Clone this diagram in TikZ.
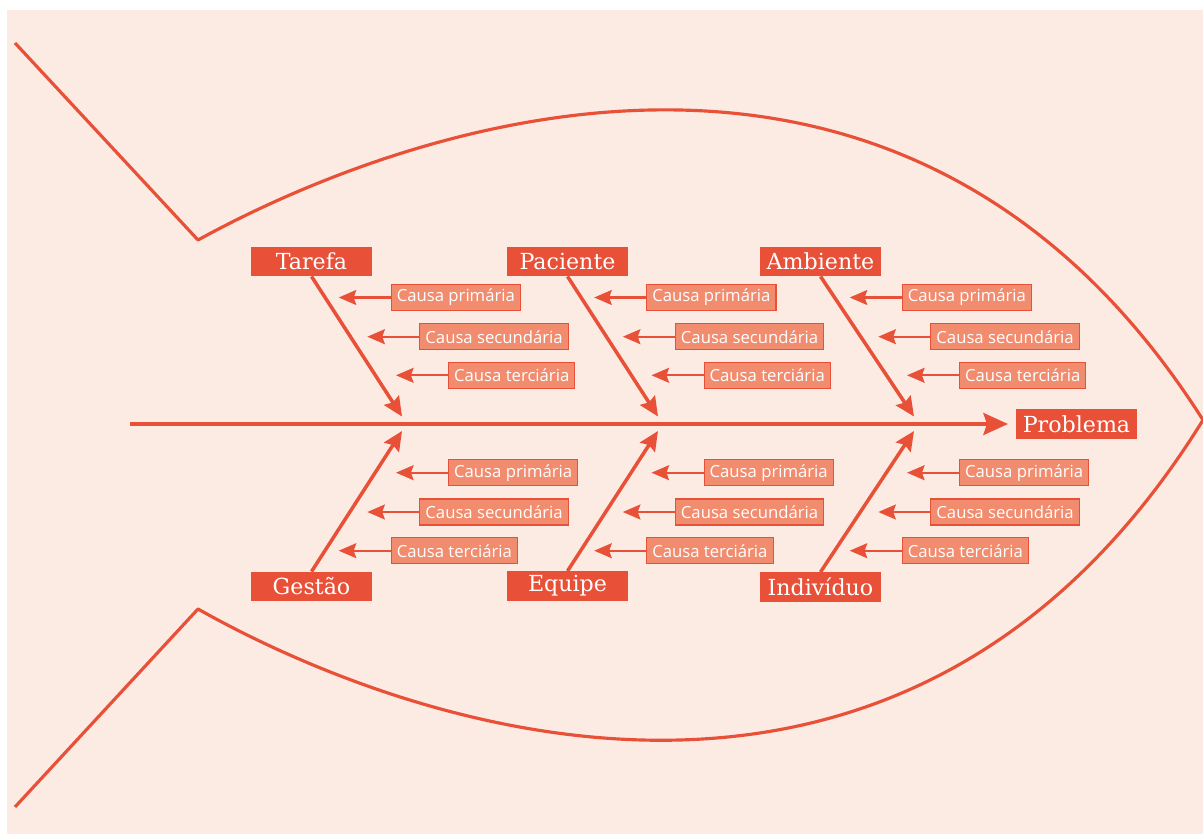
\documentclass[tikz,border=0pt]{standalone}
\usepackage{fontspec}
\usepackage{tikz}
\usetikzlibrary{arrows.meta}

\newfontfamily\slabfont{DejaVu Serif}
\newfontfamily\causefont{Open Sans}

\definecolor{fishred}{RGB}{232,80,56}
\definecolor{fishsalmon}{RGB}{242,140,111}
\definecolor{fishbg}{RGB}{252,235,227}

\tikzset{
  category/.style={fill=fishred, text=white, minimum width=68.6pt, minimum height=16.6pt,
    inner sep=0pt, font=\slabfont\fontsize{12.6}{14}\selectfont},
  cause/.style={fill=fishsalmon, draw=fishred, line width=0.6pt, text=white, anchor=west,
    minimum height=14.8pt, inner xsep=3.2pt, inner ysep=0pt, font=\causefont\fontsize{9.5}{11}\selectfont},
  bone/.style={draw=fishred, line width=2pt, -{Stealth[length=11pt, width=10pt, inset=1.5pt]}},
  spinearrow/.style={draw=fishred, line width=2pt, -{Stealth[length=14pt, width=12.5pt, inset=2pt]}},
  causearrow/.style={draw=fishred, line width=1.2pt, -{Stealth[length=10pt, width=8.5pt, inset=1.5pt]}}
}

\begin{document}
\begin{tikzpicture}[x=0.02cm, y=-0.02cm]

        \useasboundingbox (0,0) rectangle (1203,834);
        \fill[fishbg] (7,10) rectangle (1203,834);

        % fish outline
        \draw[fishred, line width=1.8pt, line join=round]
          (15,43) -- (198,240) .. controls (398,130) and (900,-57) .. (1203,420)
          .. controls (900,909) and (398,722) .. (198,609) -- (15,807);

        \begin{scope}[every node/.style={category}]
          \node (tarefa)    at (311.5,261.5) {Tarefa};
          \node (paciente)  at (567.5,261.5) {Paciente};
          \node (ambiente)  at (820.5,261.5) {Ambiente};
          \node (gestao)    at (311.5,586.5) {Gestão};
          \node (equipe)    at (567.5,586)   {Equipe};
          \node (individuo) at (820.5,587)   {Indivíduo};
          \node (problema)  at (1076.5,424)  {Problema};
        \end{scope}

        \coordinate (spine) at (130,424);
        \coordinate (tarefab)    at (402,416.5);
        \coordinate (pacienteb)  at (658,416.5);
        \coordinate (ambienteb)  at (914,416.5);
        \coordinate (gestaob)    at (402,431);
        \coordinate (equipeb)    at (658,431);
        \coordinate (individuob) at (914,431);

        \begin{scope}[every node/.style={cause}]
          \node (tarefa1)    at (390.7,297.5) {Causa primária};
          \node (tarefa2)    at (419.3,336.7) {Causa secundária};
          \node (tarefa3)    at (448,375.3)   {Causa terciária};
          \node (paciente1)  at (646.2,297.5) {Causa primária};
          \node (paciente2)  at (674.8,336.7) {Causa secundária};
          \node (paciente3)  at (703.5,375.3) {Causa terciária};
          \node (ambiente1)  at (901.7,297.5) {Causa primária};
          \node (ambiente2)  at (930.3,336.7) {Causa secundária};
          \node (ambiente3)  at (959,375.3)   {Causa terciária};
          \node (gestao1)    at (448,472.7)   {Causa primária};
          \node (gestao2)    at (419.3,512)   {Causa secundária};
          \node (gestao3)    at (390.7,550.7) {Causa terciária};
          \node (equipe1)    at (703.5,472.7) {Causa primária};
          \node (equipe2)    at (674.8,512)   {Causa secundária};
          \node (equipe3)    at (646.2,550.7) {Causa terciária};
          \node (individuo1) at (959,472.7)   {Causa primária};
          \node (individuo2) at (930.3,512)   {Causa secundária};
          \node (individuo3) at (901.7,550.7) {Causa terciária};
        \end{scope}

        % spine and bones
        \path (spine) edge[spinearrow, shorten >=4.5pt] (problema);
        \path (tarefa.south)    edge[bone] (tarefab);
        \path (paciente.south)  edge[bone] (pacienteb);
        \path (ambiente.south)  edge[bone] (ambienteb);
        \path (gestao.north)    edge[bone] (gestaob);
        \path (equipe.north)    edge[bone] (equipeb);
        \path (individuo.north) edge[bone] (individuob);

        \begin{scope}[every path/.style={causearrow}]
          \draw (tarefa1.west)    -- +(-52,0);
          \draw (tarefa2.west)    -- +(-52,0);
          \draw (tarefa3.west)    -- +(-52,0);
          \draw (paciente1.west)  -- +(-52,0);
          \draw (paciente2.west)  -- +(-52,0);
          \draw (paciente3.west)  -- +(-52,0);
          \draw (ambiente1.west)  -- +(-52,0);
          \draw (ambiente2.west)  -- +(-52,0);
          \draw (ambiente3.west)  -- +(-52,0);
          \draw (gestao1.west)    -- +(-52,0);
          \draw (gestao2.west)    -- +(-52,0);
          \draw (gestao3.west)    -- +(-52,0);
          \draw (equipe1.west)    -- +(-52,0);
          \draw (equipe2.west)    -- +(-52,0);
          \draw (equipe3.west)    -- +(-52,0);
          \draw (individuo1.west) -- +(-52,0);
          \draw (individuo2.west) -- +(-52,0);
          \draw (individuo3.west) -- +(-52,0);
        \end{scope}
      \end{tikzpicture}
\end{document}
